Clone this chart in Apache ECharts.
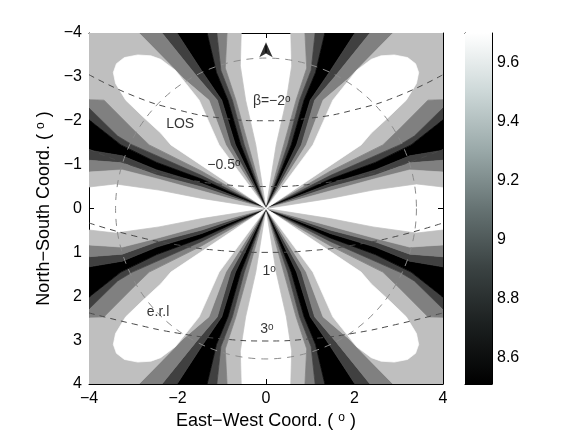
<!DOCTYPE html>
<html>
<head>
<meta charset="utf-8">
<script src="https://cdn.jsdelivr.net/npm/echarts@6/dist/echarts.min.js"></script>
<style>
  html, body { margin: 0; padding: 0; background: #fff; }
  #main { width: 584px; height: 439px; }
</style>
</head>
<body>
<div id="main"></div>
<script>
  // contour boundaries of the top-left quadrant, centre -> frame edge (data units)
  const b1 = [[0, 0], [-0.23, -1.45], [-0.46, -2.47], [-0.58, -3.25], [-0.56, -4]];
  const b2 = [[0, 0], [-0.40, -1.45], [-0.68, -2.47], [-0.92, -3.2], [-0.88, -4]];
  const b3 = [[0, 0], [-0.49, -1.45], [-0.76, -2.47], [-1.02, -3.15], [-1.11, -4]];
  const b4 = [[0, 0], [-0.57, -1.45], [-0.86, -2.47], [-1.12, -3.1], [-1.33, -4]];
  const b5 = [[0, 0], [-0.69, -1.45], [-1.00, -2.47], [-1.42, -3.09], [-2.01, -4]];
  const b6 = [[0, 0], [-0.80, -1.45], [-1.10, -2.47], [-1.55, -3.0], [-2.35, -4]];
  const b7 = [[0, 0], [-0.91, -1.45], [-1.29, -2.47], [-1.85, -2.95], [-2.87, -4]];
  const b10 = [[0, 0], [-1.45, -0.85], [-2.64, -1.45], [-3.0, -1.8], [-3.66, -2.47], [-4, -2.48]];
  const b11 = [[0, 0], [-1.45, -0.75], [-3.02, -1.45], [-3.35, -1.65], [-4, -2.29]];
  const b12 = [[0, 0], [-1.45, -0.67], [-2.47, -1.05], [-3.28, -1.45], [-4, -2.02]];
  const b13 = [[0, 0], [-1.45, -0.57], [-2.47, -0.88], [-3.25, -1.20], [-4, -1.33]];
  const b14 = [[0, 0], [-1.45, -0.49], [-2.47, -0.76], [-3.25, -1.04], [-4, -1.10]];
  const b15 = [[0, 0], [-1.45, -0.40], [-2.47, -0.68], [-3.25, -0.88], [-4, -0.83]];
  const b16 = [[0, 0], [-1.45, -0.23], [-2.42, -0.42], [-3.40, -0.56], [-4, -0.49]];
  // white diagonal lobe (closed)
  const lobe = [[0, 0], [-1.06, -1.45], [-1.51, -2.47], [-2.05, -3.15], [-2.38, -3.40], [-2.6, -3.48],
    [-2.9, -3.5], [-3.2, -3.44], [-3.38, -3.3], [-3.45, -3.1], [-3.40, -2.85], [-3.17, -2.47],
    [-2.80, -2.11], [-2.38, -1.72], [-2.15, -1.45]];
  const corner = [-4, -4];

  const fills = { white: '#ffffff', light: '#bfbfbf', gray: '#808080', dark: '#404040', black: '#000000' };

  // bands between neighbouring boundaries
  const bands = [
    [b1, b2, 'light'], [b2, b3, 'gray'], [b3, b4, 'dark'], [b4, b5, 'black'], [b5, b6, 'dark'],
    [b6, b7, 'gray'], [b7, b10, 'light', corner], [b10, b11, 'gray'], [b11, b12, 'dark'],
    [b12, b13, 'black'], [b13, b14, 'dark'], [b14, b15, 'gray'], [b15, b16, 'light']
  ];

  // dashed latitude curves
  const curveX = [-4, -3, -2, -1, 0, 1, 2, 3, 4];
  const betaM2 = [-3.05, -2.57, -2.25, -2.06, -2.0, -2.06, -2.25, -2.57, -3.05];
  const betaM05 = [-1.35, -0.97, -0.71, -0.55, -0.5, -0.55, -0.71, -0.97, -1.35];
  const beta1 = [0.33, 0.62, 0.83, 0.96, 1.0, 0.96, 0.83, 0.62, 0.33];
  const beta3 = [2.38, 2.63, 2.84, 2.97, 3.02, 2.97, 2.84, 2.63, 2.38];
  const circleR = 3.4;

  const labelText = ['β=−2{s|o}', 'LOS', '−0.5{s|o}', '1{s|o}', 'e.r.l', '3{s|o}'];
  const labelX = [0.13, -1.94, -0.95, 0.07, -2.44, 0.02];
  const labelY = [-2.44, -1.92, -0.98, 1.43, 2.37, 2.75];
  const arrowPos = [0, -3.79];
  const arrowStem = [[0, -3.55], [0, -3.72]];

  const cbMin = 8.51, cbMax = 9.70;
  const cbTicks = [8.6, 8.8, 9, 9.2, 9.4, 9.6];
  const cbColors = ['#000000', '#1b1f1f', '#3b4343', '#667373', '#9aa9a9', '#cdd8d8', '#ffffff'];

  const FONT = 'Liberation Sans, Arial, sans-serif';
  const minus = v => (v < 0 ? '−' : '') + Math.abs(v);

  // build polygons for the four quadrants by mirroring
  const polys = [];
  const quads = [[1, 1], [-1, 1], [1, -1], [-1, -1]];
  quads.forEach(([sx, sy]) => {
    const m = pts => pts.map(p => [p[0] * sx, p[1] * sy]);
    bands.forEach(([a, b, c, k]) => {
      const pts = a.concat(k ? [k] : [], b.slice().reverse());
      polys.push({ pts: m(pts), color: fills[c] });
    });
  });
  quads.forEach(([sx, sy]) => {
    polys.push({ pts: lobe.map(p => [p[0] * sx, p[1] * sy]), color: fills.white });
  });

  const dashed = (ys, name) => ({
    name: name, type: 'line', xAxisIndex: 0, yAxisIndex: 0, smooth: true, symbol: 'none', silent: true,
    data: curveX.map((x, i) => [x, ys[i]]),
    lineStyle: { color: '#4a4a4a', width: 1, type: [6, 5] }, z: 5
  });

  const myChart = echarts.init(document.getElementById('main'));
  myChart.setOption({
    animation: false,
    grid: [
      { left: 89, top: 33, width: 354, height: 351, show: true, backgroundColor: '#fff', borderWidth: 0 },
      { left: 465, top: 33, width: 27, height: 351 }
    ],
    xAxis: [
      {
        type: 'value', gridIndex: 0, min: -4, max: 4, interval: 2, position: 'bottom',
        axisLine: { show: true, onZero: false, lineStyle: { color: '#000', width: 1 } },
        axisTick: { inside: true, length: 5, lineStyle: { color: '#000' } },
        axisLabel: { formatter: minus, color: '#000', fontSize: 16, fontFamily: FONT, margin: 7 },
        splitLine: { show: false },
        name: 'East−West Coord. ( {s|o} )', nameLocation: 'middle', nameGap: 24,
        nameTextStyle: { color: '#000', fontSize: 18, fontFamily: FONT,
          rich: { s: { fontSize: 12, fontFamily: FONT, verticalAlign: 'top', color: '#000' } } }
      },
      {
        type: 'value', gridIndex: 0, min: -4, max: 4, interval: 2, position: 'top',
        axisLine: { show: true, onZero: false, lineStyle: { color: '#000', width: 1 } },
        axisTick: { inside: true, length: 5, lineStyle: { color: '#000' } },
        axisLabel: { show: false }, splitLine: { show: false }
      },
      {
        type: 'value', gridIndex: 1, min: 0, max: 1, position: 'bottom',
        axisLine: { show: true, onZero: false, lineStyle: { color: '#000', width: 1 } },
        axisTick: { show: false }, axisLabel: { show: false }, splitLine: { show: false }
      },
      {
        type: 'value', gridIndex: 1, min: 0, max: 1, position: 'top',
        axisLine: { show: true, onZero: false, lineStyle: { color: '#000', width: 1 } },
        axisTick: { show: false }, axisLabel: { show: false }, splitLine: { show: false }
      }
    ],
    yAxis: [
      {
        type: 'value', gridIndex: 0, min: -4, max: 4, interval: 1, inverse: true, position: 'left',
        axisLine: { show: true, onZero: false, lineStyle: { color: '#000', width: 1 } },
        axisTick: { inside: true, length: 5, lineStyle: { color: '#000' } },
        axisLabel: { formatter: minus, color: '#000', fontSize: 16, fontFamily: FONT, margin: 7 },
        splitLine: { show: false },
        name: 'North−South Coord. ( {s|o} )', nameLocation: 'middle', nameGap: 30, nameRotate: 90,
        nameTextStyle: { color: '#000', fontSize: 18, fontFamily: FONT,
          rich: { s: { fontSize: 12, fontFamily: FONT, verticalAlign: 'top', color: '#000' } } }
      },
      {
        type: 'value', gridIndex: 0, min: -4, max: 4, interval: 1, inverse: true, position: 'right',
        axisLine: { show: true, onZero: false, lineStyle: { color: '#000', width: 1 } },
        axisTick: { inside: true, length: 5, lineStyle: { color: '#000' } },
        axisLabel: { show: false }, splitLine: { show: false }
      },
      {
        type: 'value', gridIndex: 1, min: cbMin, max: cbMax, position: 'right',
        axisLine: { show: true, onZero: false, lineStyle: { color: '#000', width: 1 } },
        axisTick: { inside: true, length: 4, customValues: cbTicks, lineStyle: { color: '#000' } },
        axisLabel: { customValues: cbTicks, formatter: v => String(v), color: '#000', fontSize: 16,
          fontFamily: FONT, margin: 5 },
        splitLine: { show: false }
      },
      {
        type: 'value', gridIndex: 1, min: cbMin, max: cbMax, position: 'left',
        axisLine: { show: true, onZero: false, lineStyle: { color: '#000', width: 1 } },
        axisTick: { inside: true, length: 4, customValues: cbTicks, lineStyle: { color: '#000' } },
        axisLabel: { show: false }, splitLine: { show: false }
      }
    ],
    series: [
      {
        name: 'contours', type: 'custom', xAxisIndex: 0, yAxisIndex: 0, clip: true, silent: true, z: 2,
        data: polys.map((p, i) => [0, 0, i]),
        renderItem: function (params, api) {
          const p = polys[params.dataIndex];
          return {
            type: 'polygon',
            shape: { points: p.pts.map(q => api.coord(q)) },
            style: { fill: p.color, stroke: p.color, lineWidth: 0.7 }
          };
        }
      },
      dashed(betaM2, 'b-2'), dashed(betaM05, 'b-0.5'), dashed(beta1, 'b1'), dashed(beta3, 'b3'),
      {
        name: 'circle', type: 'custom', xAxisIndex: 0, yAxisIndex: 0, clip: true, silent: true, z: 5,
        data: [[0, 0, circleR]],
        renderItem: function (params, api) {
          const c = api.coord([api.value(0), api.value(1)]);
          const e = api.coord([api.value(0) + api.value(2), api.value(1)]);
          return {
            type: 'circle',
            shape: { cx: c[0], cy: c[1], r: e[0] - c[0] },
            style: { fill: null, stroke: '#8c8c8c', lineWidth: 1, lineDash: [7, 6] }
          };
        }
      },
      {
        name: 'stem', type: 'line', xAxisIndex: 0, yAxisIndex: 0, symbol: 'none', silent: true, z: 6,
        data: arrowStem, lineStyle: { color: '#000', width: 1.2 }
      },
      {
        name: 'arrow', type: 'scatter', xAxisIndex: 0, yAxisIndex: 0, silent: true, z: 7,
        symbol: 'arrow', symbolSize: [10, 15], data: [arrowPos], itemStyle: { color: '#000' }
      },
      {
        name: 'labels', type: 'scatter', xAxisIndex: 0, yAxisIndex: 0, silent: true, z: 8,
        symbolSize: 0, data: labelX.map((x, i) => [x, labelY[i]]),
        label: {
          show: true, position: 'inside', formatter: p => labelText[p.dataIndex],
          color: '#000', fontSize: 14, fontFamily: FONT,
          rich: { s: { fontSize: 10, fontFamily: FONT, verticalAlign: 'top', color: '#000' } }
        }
      },
      {
        name: 'colorbar', type: 'custom', xAxisIndex: 2, yAxisIndex: 2, silent: true, z: 2,
        data: [[0, cbMin, 1, cbMax]],
        renderItem: function (params, api) {
          const p0 = api.coord([api.value(0), api.value(3)]);
          const p1 = api.coord([api.value(2), api.value(1)]);
          const stops = cbColors.map((c, i) => ({ offset: 1 - i / (cbColors.length - 1), color: c }));
          stops.reverse();
          return {
            type: 'rect',
            shape: { x: p0[0], y: p0[1], width: p1[0] - p0[0], height: p1[1] - p0[1] },
            style: { fill: new echarts.graphic.LinearGradient(0, 0, 0, 1, stops) }
          };
        }
      }
    ]
  });
</script>
</body>
</html>
